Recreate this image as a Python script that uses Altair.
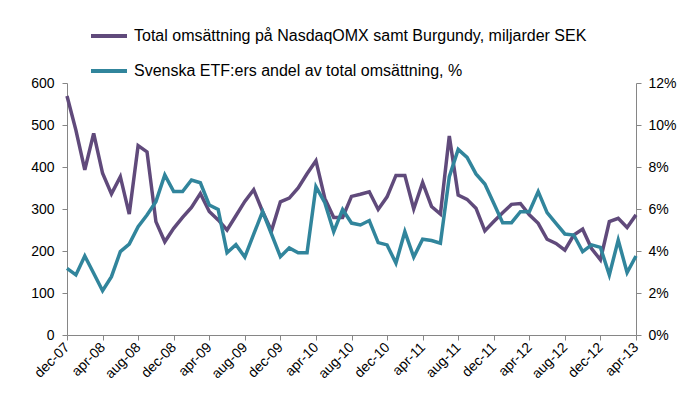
import altair as alt
import pandas as pd

# Month categories (Swedish abbreviations), dec-07 .. apr-13
month_names = ["jan", "feb", "mar", "apr", "maj", "jun", "jul", "aug", "sep", "okt", "nov", "dec"]
months = ["dec-07"] + [f"{m}-{y:02d}" for y in range(8, 14) for m in month_names][:64]

tick_labels = ["dec-07", "apr-08", "aug-08", "dec-08", "apr-09", "aug-09", "dec-09",
               "apr-10", "aug-10", "dec-10", "apr-11", "aug-11", "dec-11", "apr-12",
               "aug-12", "dec-12", "apr-13"]

series_1 = "Total omsättning på NasdaqOMX samt Burgundy, miljarder SEK"
series_2 = "Svenska ETF:ers andel av total omsättning, %"

turnover = [569, 488, 393, 480, 385, 336, 377, 288, 451, 436, 270, 222,
            254, 280, 304, 337, 294, 274, 250, 284, 318, 346, 294, 248,
            317, 326, 350, 384, 415, 325, 280, 280, 330, 335, 341, 299,
            329, 380, 380, 300, 363, 306, 288, 474, 333, 323, 302, 248,
            270, 291, 311, 313, 286, 266, 228, 218, 202, 238, 252, 206,
            179, 270, 278, 256, 286]

etf_share_pct = [3.17, 2.86, 3.76, 2.94, 2.11, 2.78, 3.97, 4.33, 5.16, 5.71, 6.35, 7.62,
                 6.83, 6.83, 7.38, 7.25, 6.19, 5.98, 3.92, 4.30, 3.71, 4.80, 5.88, 4.81,
                 3.73, 4.15, 3.92, 3.92, 7.06, 6.30, 4.92, 5.98, 5.33, 5.24, 5.45, 4.40,
                 4.29, 3.42, 4.92, 3.71, 4.56, 4.50, 4.37, 7.54, 8.84, 8.46, 7.67, 7.19,
                 6.27, 5.35, 5.35, 5.87, 5.87, 6.83, 5.83, 5.32, 4.81, 4.76, 3.97, 4.29,
                 4.17, 2.86, 4.52, 2.97, 3.76]

colors = ["#604A7B", "#31859C"]

df = pd.DataFrame({
    "month": months,
    "turnover": turnover,
    "etf_share": [v / 100 for v in etf_share_pct],
    "s1": series_1,
    "s2": series_2,
})

font = "Liberation Sans"
axis_gray = "#868686"

color_scale = alt.Scale(domain=[series_1, series_2], range=colors)
legend = alt.Legend(
    title=None, orient="none", legendX=22, legendY=-67, direction="vertical",
    symbolType="stroke", symbolSize=1296, symbolStrokeWidth=4,
    labelFont=font, labelFontSize=16, labelColor="#000000", labelLimit=0,
    labelOffset=5, rowPadding=7,
)

x_enc = alt.X(
    "month:O", sort=months, title=None,
    scale=alt.Scale(type="point", padding=0),
    axis=alt.Axis(values=tick_labels, labelAngle=-45, labelAlign="right",
                  labelBaseline="middle", labelPadding=5, tickSize=5,
                  labelFont=font, labelFontSize=14, labelColor="#000000",
                  domainColor=axis_gray, tickColor=axis_gray, grid=False),
)

line1 = alt.Chart(df).mark_line(strokeWidth=3.5).encode(
    x=x_enc,
    y=alt.Y("turnover:Q", title=None,
            scale=alt.Scale(domain=[0, 600], nice=False),
            axis=alt.Axis(orient="left", values=[0, 100, 200, 300, 400, 500, 600],
                          tickSize=5, labelPadding=8, labelFont=font, labelFontSize=14,
                          labelColor="#000000", domainColor=axis_gray,
                          tickColor=axis_gray, grid=False)),
    color=alt.Color("s1:N", scale=color_scale, legend=legend),
)

line2 = alt.Chart(df).mark_line(strokeWidth=3.5).encode(
    x=x_enc,
    y=alt.Y("etf_share:Q", title=None,
            scale=alt.Scale(domain=[0, 0.12], nice=False),
            axis=alt.Axis(orient="right", values=[0, 0.02, 0.04, 0.06, 0.08, 0.10, 0.12],
                          format=".0%", tickSize=5, labelPadding=7, labelFont=font,
                          labelFontSize=14, labelColor="#000000", domainColor=axis_gray,
                          tickColor=axis_gray, grid=False)),
    color=alt.Color("s2:N", scale=color_scale, legend=legend),
)

chart = alt.layer(line1, line2).resolve_scale(y="independent").properties(
    width=569, height=252,
    padding={"left": 59, "top": 75, "right": 43, "bottom": 64},
    autosize=alt.AutoSizeParams(type="none"),
).configure_view(stroke=None)

chart.save("out.html", embed_options={"renderer": "svg", "actions": False})
